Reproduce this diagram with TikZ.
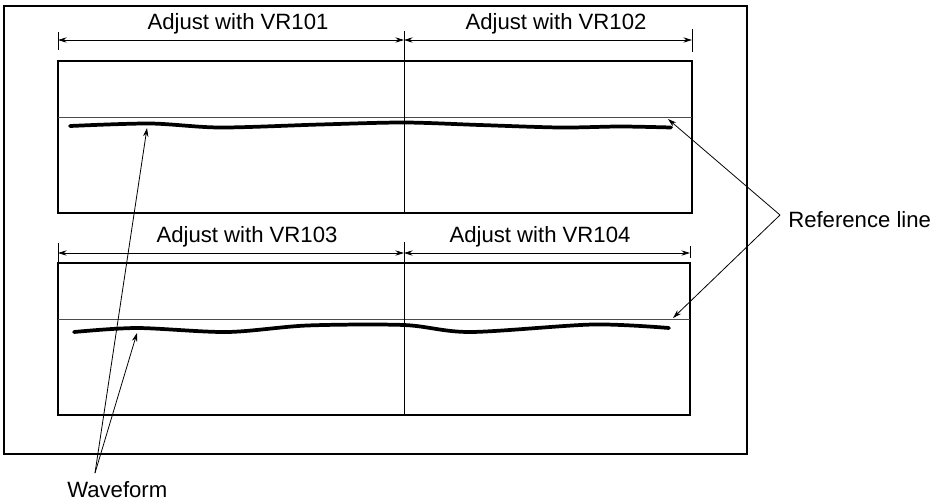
\documentclass[tikz,border=0pt]{standalone}
\usepackage{fontspec}
\setmainfont{Liberation Sans}
\usetikzlibrary{arrows.meta}
\begin{document}
\begin{tikzpicture}[x=0.75pt,y=-0.75pt,
  frame/.style={line width=1.2pt},
  panel/.style={line width=1.2pt},
  refl/.style={line width=0.6pt, black!70},
  divl/.style={line width=0.7pt},
  wave/.style={line width=2.8pt, line cap=round, line join=round},
  dim/.style={line width=0.6pt, {Stealth[length=6.5pt,width=4pt]}-{Stealth[length=6.5pt,width=4pt]}},
  lead/.style={line width=0.6pt, -{Stealth[length=6.5pt,width=4pt]}},
  lbl/.style={inner sep=0pt, anchor=base, font=\fontsize{16.6}{19}\selectfont}]
\useasboundingbox (0,0) rectangle (943,501);
% outer frame
\draw[frame] (4,6) rectangle (747,454);
% top panel
\coordinate (t1) at (58,61); \coordinate (t2) at (692,213);
\draw[panel] (t1) rectangle (t2);
\draw[refl] (58,117) -- (692,117);
% lower panel
\coordinate (b1) at (58,263); \coordinate (b2) at (690,415);
\draw[panel] (b1) rectangle (b2);
\draw[refl] (58,319) -- (690,319);
% dividers / ticks top
\coordinate (tl) at (58,40); \coordinate (tm) at (404,40); \coordinate (tr) at (692,40);
\draw[divl] (404,31) -- (404,213);
\draw[divl] (58,32) -- (58,50);
\draw[divl] (692,29) -- (692,52);
\draw[dim] (tl) -- (tm);
\draw[dim] (tm) -- (tr);
% dividers / ticks lower
\coordinate (bl) at (58,253); \coordinate (bm) at (404,253); \coordinate (br) at (690,253);
\draw[divl] (404,242) -- (404,415);
\draw[divl] (58,243) -- (58,262);
\draw[divl] (690,246) -- (690,258);
\draw[dim] (bl) -- (bm);
\draw[dim] (bm) -- (br);
% labels
\node[lbl] (a101) at (238,29) {Adjust with VR101};
\node[lbl] (a102) at (556,29) {Adjust with VR102};
\node[lbl] (a103) at (247,242) {Adjust with VR103};
\node[lbl] (a104) at (540,242) {Adjust with VR104};
% waveforms
\draw[wave] plot[smooth, tension=0.5] coordinates {(70,126) (150,123.5) (220,127.5) (320,124.5) (404,122.5) (480,125) (560,127.5) (620,126.5) (671,127.5)};
\draw[wave] plot[smooth, tension=0.5] coordinates {(74,332) (137,328) (227,332) (307,325.5) (404,325) (470,332) (593,324.5) (669,328)};
% reference line label
\node[lbl, anchor=base west] (ref) at (788,227) {Reference line};
\coordinate (rapex) at (780,215);
\coordinate (rt1) at (668,119);
\coordinate (rt2) at (673,318);
\draw[lead] (rapex) -- (rt1);
\draw[lead] (rapex) -- (rt2);
% waveform label
\node[lbl, anchor=base west] (wf) at (67,497) {Waveform};
\coordinate (wapex) at (95,473);
\coordinate (wt1) at (147,128);
\coordinate (wt2) at (137,333);
\draw[lead] (wapex) -- (wt1);
\draw[lead] (wapex) -- (wt2);
\end{tikzpicture}
\end{document}
